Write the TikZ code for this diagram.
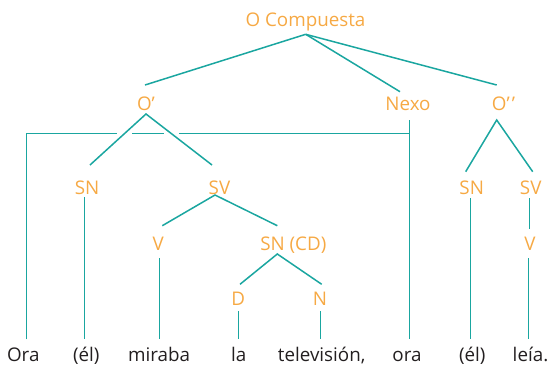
\documentclass[tikz,border=0pt]{standalone}
\usepackage{fontspec}
\setmainfont{Open Sans}
\definecolor{lbl}{HTML}{F6A944}
\definecolor{lnk}{HTML}{1AA6A0}
\definecolor{wrd}{HTML}{231F20}
\tikzset{
  lab/.style={text=lbl, anchor=base, inner sep=0pt, font=\fontsize{18.8}{20}\selectfont},
  word/.style={text=wrd, anchor=base, inner sep=0pt, font=\fontsize{18.8}{20}\selectfont},
  link/.style={draw=lnk, line width=1.5pt}
}
\begin{document}
\begin{tikzpicture}[x=1pt, y=-1pt]
\useasboundingbox (0,0) rectangle (550,365);
% labels
\node[lab] (oc) at (305.5,26.7) {O Compuesta};
\node[lab] (op) at (146,110) {O’};
\node[lab] (nexo) at (408,110) {Nexo};
\node[lab] (opp) at (503.5,110) {O’\kern2pt’};
\node[lab] (sn1) at (87,194) {SN};
\node[lab] (sv1) at (219.5,194) {SV};
\node[lab] (v1) at (158.3,250) {V};
\node[lab] (sncd) at (293.3,250) {SN (CD)};
\node[lab] (d) at (238.3,305) {D};
\node[lab] (n) at (320,305) {N};
\node[lab] (sn2) at (471.7,194) {SN};
\node[lab] (sv2) at (530.7,194) {SV};
\node[lab] (v2) at (530,250) {V};
% words
\node[word] (w1) at (23.3,361.7) {Ora};
\node[word] (w2) at (86.3,361.7) {(él)};
\node[word] (w3) at (159.2,361.7) {miraba};
\node[word] (w4) at (238.8,361.7) {la};
\node[word] (w5) at (321.7,361.7) {televisión,};
\node[word] (w6) at (407,361.7) {ora};
\node[word] (w7) at (472.3,361.7) {(él)};
\node[word] (w8) at (530.5,361.7) {leía.};
% connector ends
\coordinate (oc-s) at (305.7,34.3);
\coordinate (op-n) at (145,85);
\coordinate (nexo-n) at (400,91.7);
\coordinate (opp-n) at (496.7,85);
\coordinate (op-s) at (146,114);
\coordinate (sn1-n) at (90,165);
\coordinate (sv1-n) at (212,165);
\coordinate (nexo-s) at (409.5,120);
\coordinate (w6-n) at (409.5,339.3);
\coordinate (w1-n) at (26.5,339.3);
\coordinate (br-l) at (26.5,133.5);
\coordinate (br-r) at (409.5,133.5);
\coordinate (g1a) at (117,133.5);
\coordinate (g1b) at (132,133.5);
\coordinate (g2a) at (164,133.5);
\coordinate (g2b) at (179,133.5);
\coordinate (sn1-s) at (84.5,197);
\coordinate (w2-n) at (84.5,339.3);
\coordinate (sv1-s) at (215,195);
\coordinate (v1-n) at (162.3,225.7);
\coordinate (sncd-n) at (277.3,225.7);
\coordinate (v1-s) at (159.5,258.3);
\coordinate (w3-n) at (159.5,339.3);
\coordinate (sncd-s) at (277.3,254);
\coordinate (d-n) at (240,284.3);
\coordinate (n-n) at (321.7,284.3);
\coordinate (d-s) at (238.5,311);
\coordinate (w4-n) at (238.5,339.3);
\coordinate (n-s) at (320.5,311);
\coordinate (w5-n) at (320.5,339.3);
\coordinate (opp-s) at (496.7,120);
\coordinate (sn2-n) at (465.7,171.7);
\coordinate (sv2-n) at (532.7,171.7);
\coordinate (sn2-s) at (470.5,198.3);
\coordinate (w7-n) at (470.5,339.3);
\coordinate (sv2-s) at (529.5,198.3);
\coordinate (v2-n) at (529.5,229.3);
\coordinate (v2-s) at (528.5,258);
\coordinate (w8-n) at (528.5,339.3);
% connectors
\draw[link] (oc-s) -- (op-n);
\draw[link] (oc-s) -- (nexo-n);
\draw[link] (oc-s) -- (opp-n);
\draw[link] (sn1-n) -- (op-s) -- (sv1-n);
\draw[link] (w1-n) -- (br-l) -- (g1a);
\draw[link] (g1b) -- (g2a);
\draw[link] (g2b) -- (br-r);
\draw[link] (nexo-s) -- (w6-n);
\draw[link] (sn1-s) -- (w2-n);
\draw[link] (v1-n) -- (sv1-s) -- (sncd-n);
\draw[link] (v1-s) -- (w3-n);
\draw[link] (d-n) -- (sncd-s) -- (n-n);
\draw[link] (d-s) -- (w4-n);
\draw[link] (n-s) -- (w5-n);
\draw[link] (sn2-n) -- (opp-s) -- (sv2-n);
\draw[link] (sn2-s) -- (w7-n);
\draw[link] (sv2-s) -- (v2-n);
\draw[link] (v2-s) -- (w8-n);
\end{tikzpicture}
\end{document}
